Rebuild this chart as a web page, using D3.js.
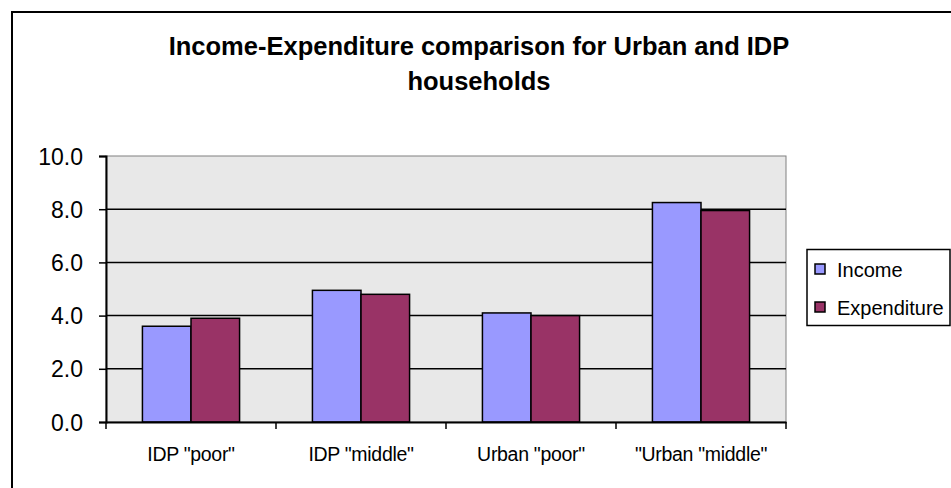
<!DOCTYPE html>
<html><head><meta charset="utf-8">
<script src="https://cdn.jsdelivr.net/npm/d3@7"></script>
<style>body{margin:0;background:#fff}svg{display:block;font-family:"Liberation Sans",Arial,sans-serif}</style>
</head><body><svg id="c" width="951" height="488"></svg>
<script>
const categories = ['IDP "poor"', 'IDP "middle"', 'Urban "poor"', '"Urban "middle"'];
const seriesNames = ["Income", "Expenditure"];
const income = [3.6, 4.95, 4.1, 8.25];
const expenditure = [3.9, 4.8, 4.0, 7.95];
const yTicks = [0, 2, 4, 6, 8, 10];
const colors = ["#9999FF", "#993366"];
const titleLines = ["Income-Expenditure comparison for Urban and IDP", "households"];
const FF = "Liberation Sans, Arial, sans-serif";

const svg = d3.select("#c");
svg.append("rect").attr("x", 12).attr("y", 12).attr("width", 960).attr("height", 500)
  .attr("fill", "#fff").attr("stroke", "#000").attr("stroke-width", 2);

const m = {left: 106, right: 786, top: 156, bottom: 422};
const x = d3.scaleBand().domain(categories).range([m.left, m.right]).paddingInner(0).paddingOuter(0);
const x1 = d3.scaleBand().domain(seriesNames).range([0, x.bandwidth()]).paddingInner(0).paddingOuter(0.75);
const y = d3.scaleLinear().domain([0, 10]).range([m.bottom, m.top]);

svg.append("rect").attr("x", m.left).attr("y", m.top).attr("width", m.right - m.left).attr("height", m.bottom - m.top)
  .attr("fill", "#E8E8E8").attr("stroke", "#808080").attr("stroke-width", 1);

svg.append("g").selectAll("line").data(yTicks.filter(d => d > 0 && d < 10)).join("line")
  .attr("x1", m.left).attr("x2", m.right).attr("y1", d => y(d)).attr("y2", d => y(d))
  .attr("stroke", "#000").attr("stroke-width", 1.5);

const data = categories.map((c, i) => ({c, vals: [income[i], expenditure[i]]}));
const g = svg.append("g").selectAll("g").data(data).join("g").attr("transform", d => `translate(${x(d.c)},0)`);
g.selectAll("rect").data(d => d.vals.map((v, j) => ({v, s: seriesNames[j], j}))).join("rect")
  .attr("x", d => x1(d.s)).attr("width", x1.bandwidth())
  .attr("y", d => y(d.v)).attr("height", d => y(0) - y(d.v))
  .attr("fill", d => colors[d.j]).attr("stroke", "#000").attr("stroke-width", 1.5);

const ya = svg.append("g").attr("transform", `translate(${m.left},0)`)
  .call(d3.axisLeft(y).tickValues(yTicks).tickFormat(d3.format(".1f")).tickSizeOuter(0).tickSize(7).tickPadding(16));
ya.select(".domain").attr("stroke", "#000").attr("stroke-width", 2);
ya.selectAll(".tick line").attr("stroke", "#000").attr("stroke-width", 1.5);
ya.selectAll("text").attr("font-size", 23).attr("fill", "#000").attr("font-family", FF).attr("dy", "0.35em");

const xa = svg.append("g").attr("transform", `translate(0,${m.bottom})`)
  .call(d3.axisBottom(x).tickSize(0).tickSizeOuter(0));
xa.select(".domain").attr("stroke", "#000").attr("stroke-width", 2);
xa.selectAll("text").attr("font-size", 19.5).attr("fill", "#000").attr("font-family", FF)
  .attr("letter-spacing", -0.3).attr("dy", null).attr("y", 39);
const bounds = categories.map(c => x(c)).concat([m.right]);
svg.append("g").selectAll("line").data(bounds).join("line")
  .attr("x1", d => d).attr("x2", d => d).attr("y1", m.bottom).attr("y2", m.bottom + 7)
  .attr("stroke", "#000").attr("stroke-width", 1.5);

svg.append("g").selectAll("text").data(titleLines).join("text")
  .attr("x", 479).attr("y", (d, i) => 55 + i * 35).attr("text-anchor", "middle")
  .attr("font-size", 25.5).attr("font-weight", "bold").text(d => d);

const lg = svg.append("g");
lg.append("rect").attr("x", 807).attr("y", 249.5).attr("width", 143).attr("height", 76)
  .attr("fill", "#fff").attr("stroke", "#000").attr("stroke-width", 1.5);
const li = lg.selectAll("g").data(seriesNames).join("g").attr("transform", (d, i) => `translate(815,${264 + i * 38})`);
li.append("rect").attr("width", 10).attr("height", 10).attr("fill", (d, i) => colors[i]).attr("stroke", "#000").attr("stroke-width", 1.5);
li.append("text").attr("x", 22).attr("y", 12.5).attr("font-size", 20).text(d => d);
</script></body></html>
